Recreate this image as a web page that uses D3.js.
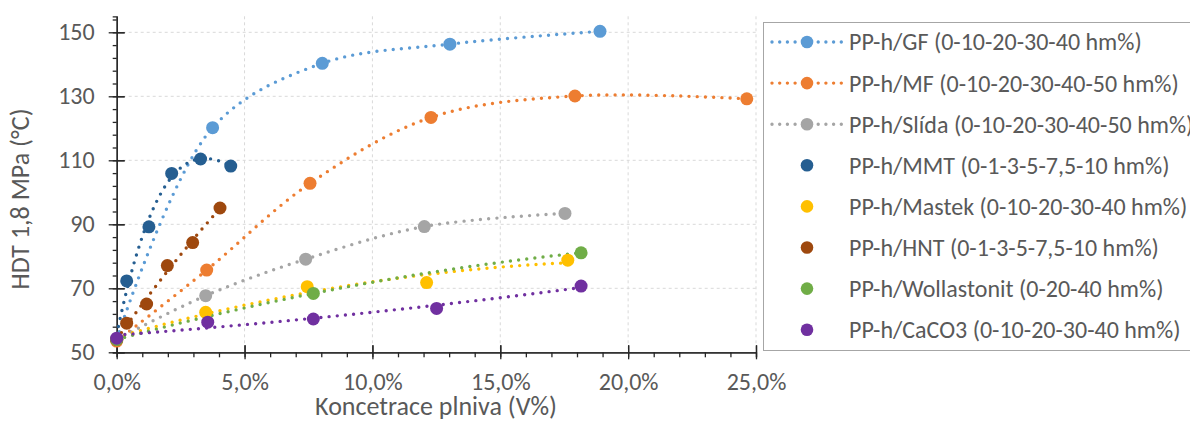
<!DOCTYPE html>
<html>
<head>
<meta charset="utf-8">
<script src="https://cdn.jsdelivr.net/npm/d3@7"></script>
<style>
  body { margin: 0; background: #fff; }
  text { font-family: Carlito, Calibri, "Open Sans", sans-serif; fill: #595959; }
</style>
</head>
<body>
<svg id="chart" width="1190" height="422"></svg>
<script>
// series labels + colours (legend order = draw order)
const seriesNames = [
  'PP-h/GF (0-10-20-30-40 hm%)',
  'PP-h/MF (0-10-20-30-40-50 hm%)',
  'PP-h/Slída (0-10-20-30-40-50 hm%)',
  'PP-h/MMT (0-1-3-5-7,5-10 hm%)',
  'PP-h/Mastek (0-10-20-30-40 hm%)',
  'PP-h/HNT (0-1-3-5-7,5-10 hm%)',
  'PP-h/Wollastonit (0-20-40 hm%)',
  'PP-h/CaCO3 (0-10-20-30-40 hm%)'
]
const seriesColors = ['#5B9BD5', '#ED7D31', '#A5A5A5', '#255E91', '#FFC000', '#9E480E', '#70AD47', '#7030A0']
// first three are smoothed dotted series lines, the rest markers only + polynomial trendline
const smoothLine = [true, true, true, false, false, false, false, false]
const trendOrders = [0, 0, 0, 3, 2, 2, 2, 2]

// concentration (V%) and HDT (°C) per filler
const gfConc = [0, 3.75, 8.04, 13.03, 18.9]
const gfHdt = [54, 120.2, 140.3, 146.3, 150.3]
const mfConc = [0, 3.52, 7.56, 12.29, 17.92, 24.64]
const mfHdt = [53.5, 75.7, 102.8, 123.4, 130.1, 129.2]
const slidaConc = [0, 3.48, 7.39, 12.03, 17.53]
const slidaHdt = [54, 67.7, 79.1, 89.3, 93.4]
const mmtConc = [0, 0.39, 1.26, 2.15, 3.28, 4.46]
const mmtHdt = [54, 72.3, 89.2, 105.9, 110.4, 108.2]
const mastekConc = [0, 3.48, 7.45, 12.12, 17.64]
const mastekHdt = [54, 62.5, 70.5, 71.8, 78.8]
const hntConc = [0, 0.39, 1.17, 1.98, 2.97, 4.04]
const hntHdt = [54, 59.1, 65.1, 77.1, 84.3, 95.1]
const wollConc = [0, 7.69, 18.16]
const wollHdt = [54, 68.4, 81.1]
const caco3Conc = [0, 3.56, 7.69, 12.51, 18.16]
const caco3Hdt = [54.4, 59.4, 60.4, 63.7, 70.7]

const xTicks = [0, 5, 10, 15, 20, 25]
const yTicks = [50, 70, 90, 110, 130, 150]

const concs = [gfConc, mfConc, slidaConc, mmtConc, mastekConc, hntConc, wollConc, caco3Conc]
const hdts = [gfHdt, mfHdt, slidaHdt, mmtHdt, mastekHdt, hntHdt, wollHdt, caco3Hdt]
const series = seriesNames.map((name, i) => ({
  name, color: seriesColors[i], smooth: smoothLine[i], order: trendOrders[i],
  points: concs[i].map((c, j) => ({ x: c, y: hdts[i][j] }))
}))

// least squares polynomial fit (like excel trendline)
function polyFit(pts, order) {
  const n = order + 1
  const s = d3.max(pts, p => p.x) || 1
  const A = Array.from({ length: n }, () => new Array(n + 1).fill(0))
  pts.forEach(p => {
    const u = p.x / s
    for (let r = 0; r < n; r++) {
      for (let c = 0; c < n; c++) A[r][c] += Math.pow(u, r + c)
      A[r][n] += p.y * Math.pow(u, r)
    }
  })
  for (let k = 0; k < n; k++) {
    let piv = k
    for (let r = k + 1; r < n; r++) if (Math.abs(A[r][k]) > Math.abs(A[piv][k])) piv = r
    ;[A[k], A[piv]] = [A[piv], A[k]]
    for (let r = 0; r < n; r++) {
      if (r === k) continue
      const f = A[r][k] / A[k][k]
      for (let c = k; c <= n; c++) A[r][c] -= f * A[k][c]
    }
  }
  const coef = A.map((row, k) => row[n] / row[k])
  return x => coef.reduce((acc, a, k) => acc + a * Math.pow(x / s, k), 0)
}

const svg = d3.select('#chart')
const x = d3.scaleLinear().domain([0, 25]).range([116.7, 756])
const y = d3.scaleLinear().domain([50, 155]).range([352.3, 16.3])

// gridlines
const grid = svg.append('g').attr('stroke', '#D9D9D9').attr('stroke-width', 1).attr('stroke-dasharray', '3,3')
grid.selectAll('.gx').data(xTicks.slice(1)).join('line')
  .attr('x1', d => x(d)).attr('x2', d => x(d)).attr('y1', y(155)).attr('y2', y(50))
grid.selectAll('.gy').data(yTicks.slice(1)).join('line')
  .attr('x1', x(0)).attr('x2', x(25)).attr('y1', d => y(d)).attr('y2', d => y(d))

// axes
const fmt = d => d.toFixed(1).replace('.', ',') + '%'
const xAxis = svg.append('g').attr('transform', `translate(0,${y(50)})`)
xAxis.call(d3.axisBottom(x).tickValues(d3.range(0, 26, 1)).tickSize(5).tickFormat(''))
xAxis.append('g').call(d3.axisBottom(x).tickValues(xTicks).tickSizeInner(7).tickSizeOuter(0).tickPadding(14).tickFormat(fmt))
xAxis.selectAll('g > .tick').filter(d => xTicks.includes(d)).select('line').attr('y1', -7)
const yAxis = svg.append('g').attr('transform', `translate(${x(0)},0)`)
yAxis.call(d3.axisLeft(y).tickValues(d3.range(50, 156, 4)).tickSize(4).tickFormat(''))
yAxis.append('g').call(d3.axisLeft(y).tickValues(yTicks).tickSizeInner(8).tickSizeOuter(0).tickPadding(14))
yAxis.selectAll('g > .tick').filter(d => yTicks.includes(d)).select('line').attr('x1', 8)
svg.selectAll('.domain').attr('stroke', '#262626').attr('stroke-width', 1.3)
svg.selectAll('.tick line').attr('stroke', '#262626').attr('stroke-width', 1.3)
svg.selectAll('.tick text').attr('font-size', 24).attr('fill', '#595959').attr('font-family', null)
xAxis.selectAll('.tick text').attr('dy', '0.7em')

// dotted lines: smoothed series lines and trendlines
const line = d3.line().x(d => x(d.x)).y(d => y(d.y))
const smooth = d3.line().x(d => x(d.x)).y(d => y(d.y)).curve(d3.curveCatmullRom.alpha(0.5))
svg.append('g').selectAll('path').data(series).join('path')
  .attr('fill', 'none')
  .attr('stroke', d => d.color)
  .attr('stroke-width', 3.4)
  .attr('stroke-linecap', 'round')
  .attr('stroke-dasharray', '0,8.2')
  .attr('d', d => {
    if (d.smooth) return smooth(d.points)
    const f = polyFit(d.points, d.order)
    const xMax = d3.max(d.points, p => p.x)
    return line(d3.range(0, 201).map(k => ({ x: xMax * k / 200, y: f(xMax * k / 200) })))
  })

// markers
svg.append('g').selectAll('g').data(series).join('g')
  .attr('fill', d => d.color)
  .selectAll('circle').data(d => d.points).join('circle')
  .attr('cx', d => x(d.x)).attr('cy', d => y(d.y)).attr('r', 6.5)

// axis titles
svg.append('text').attr('x', 436).attr('y', 415).attr('text-anchor', 'middle')
  .attr('font-size', 26).text('Koncetrace plniva (V%)')
svg.append('text').attr('transform', 'translate(29,199) rotate(-90)').attr('text-anchor', 'middle')
  .attr('font-size', 26).text('HDT 1,8 MPa (°C)')

// legend
svg.append('rect').attr('x', 763.5).attr('y', 22.5).attr('width', 440).attr('height', 328)
  .attr('fill', 'none').attr('stroke', '#A6A6A6').attr('stroke-width', 1)
const lg = svg.append('g').selectAll('g').data(series).join('g')
  .attr('transform', (d, i) => `translate(0,${42 + i * 41.1})`)
lg.filter(d => d.smooth).append('line')
  .attr('x1', 772).attr('x2', 843).attr('stroke', d => d.color)
  .attr('stroke-width', 3.4).attr('stroke-linecap', 'round').attr('stroke-dasharray', '0,7.7')
lg.append('circle').attr('cx', 807).attr('r', 6.3).attr('fill', d => d.color)
lg.append('text').attr('x', 849).attr('dy', '0.35em').attr('font-size', 24).text(d => d.name)
</script>
</body>
</html>
